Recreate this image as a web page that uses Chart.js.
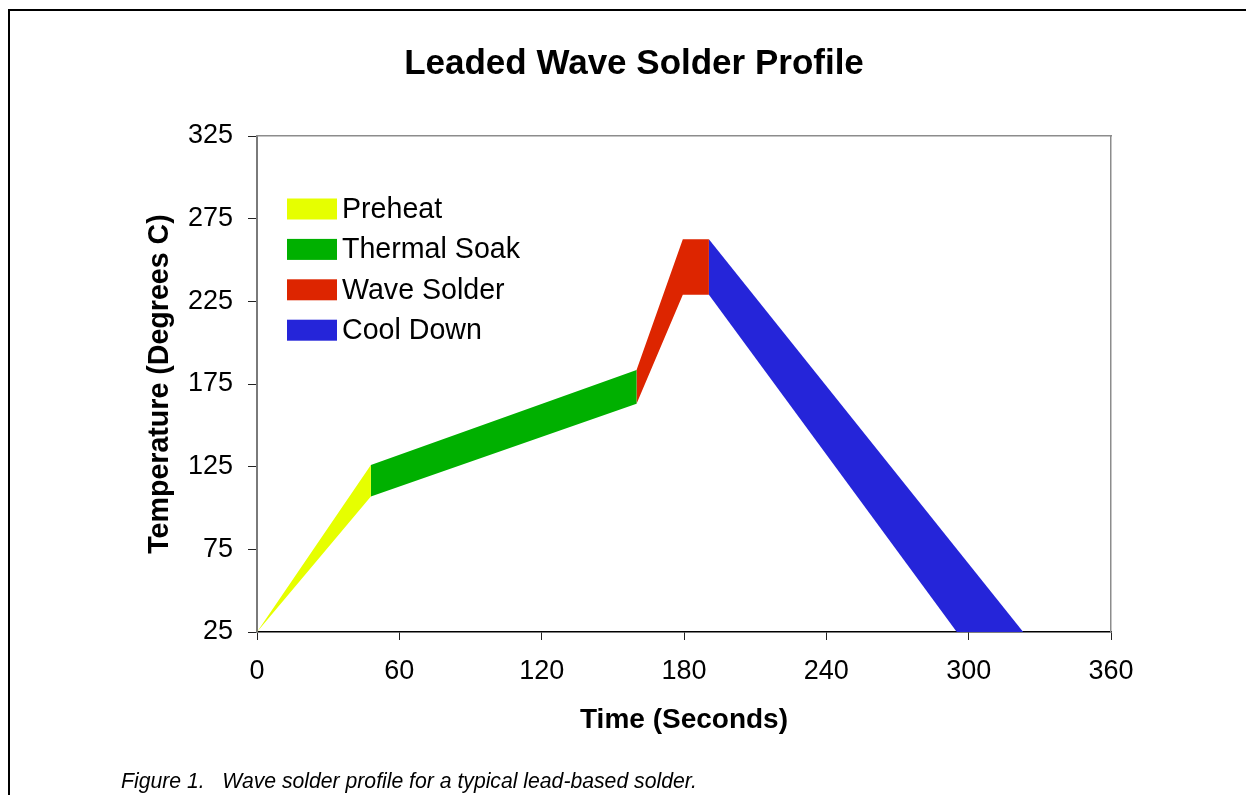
<!DOCTYPE html>
<html>
<head>
<meta charset="utf-8">
<script src="https://cdn.jsdelivr.net/npm/chart.js@4/dist/chart.umd.min.js"></script>
<style>
  html, body { margin: 0; padding: 0; background: #fff; }
  #wrap { position: relative; width: 1246px; height: 795px; overflow: hidden; background: #fff; }
  #chart { position: absolute; left: 0; top: 0; }
  #frame { position: absolute; left: 8px; top: 9px; width: 1300px; height: 900px;
           border-left: 2px solid #000; border-top: 2px solid #000; pointer-events: none; }
  #caption { position: absolute; left: 121px; top: 769px; font: italic 21.2px "Liberation Sans", Arial, sans-serif;
             color: #000; white-space: pre; line-height: 1.1; }
</style>
</head>
<body>
<div id="wrap">
  <canvas id="chart" width="1246" height="795"></canvas>
  <div id="frame"></div>
  <div id="caption">Figure 1.   Wave solder profile for a typical lead-based solder.</div>
</div>
<script>
// ---- data ----
const phaseNames = ['Preheat', 'Thermal Soak', 'Wave Solder', 'Cool Down'];
const phaseColors = ['#e6ff00', '#00b000', '#dd2500', '#2525d9'];

// upper and lower edges of each temperature band (time in s, temperature in °C)
const preheatHighTime = [0, 48];
const preheatHigh     = [25, 126];
const preheatLowTime  = [0, 48];
const preheatLow      = [25, 107];

const soakHighTime = [48, 160];
const soakHigh     = [126, 183.5];
const soakLowTime  = [48, 160];
const soakLow      = [107, 163];

const waveHighTime = [160, 179.5, 190.5];
const waveHigh     = [183.5, 262.5, 262.5];
const waveLowTime  = [160, 179.5, 190.5];
const waveLow      = [163, 229, 229];

const coolHighTime = [190.5, 323];
const coolHigh     = [262.5, 25];
const coolLowTime  = [190.5, 295];
const coolLow      = [229, 25];

const timeTicks = [0, 60, 120, 180, 240, 300, 360];
const tempTicks = [25, 75, 125, 175, 225, 275, 325];

// ---- build polygons (upper edge forward, lower edge back) ----
function band(hiT, hi, loT, lo) {
  const pts = [];
  for (let i = 0; i < hiT.length; i++) pts.push({ x: hiT[i], y: hi[i] });
  for (let i = loT.length - 1; i >= 0; i--) pts.push({ x: loT[i], y: lo[i] });
  return pts;
}
const bands = [
  band(preheatHighTime, preheatHigh, preheatLowTime, preheatLow),
  band(soakHighTime, soakHigh, soakLowTime, soakLow),
  band(waveHighTime, waveHigh, waveLowTime, waveLow),
  band(coolHighTime, coolHigh, coolLowTime, coolLow)
];

const FONT = '"Liberation Sans", Arial, Helvetica, sans-serif';

const legendPlugin = {
  id: 'insideLegend',
  afterDatasetsDraw(chart) {
    const { ctx, chartArea } = chart;
    ctx.save();
    ctx.font = '28.6px ' + FONT;
    ctx.textBaseline = 'middle';
    ctx.textAlign = 'left';
    chart.data.datasets.forEach((ds, i) => {
      const cy = chartArea.top + 73 + i * 40.4;
      const bx = chartArea.left + 30;
      ctx.fillStyle = ds.backgroundColor;
      ctx.fillRect(bx, cy - 10.5, 50, 21);
      ctx.fillStyle = '#000';
      ctx.fillText(ds.label, bx + 55, cy + 1);
    });
    ctx.restore();
  }
};

new Chart(document.getElementById('chart'), {
  type: 'line',
  data: {
    datasets: bands.map((pts, i) => ({
      label: phaseNames[i],
      data: pts,
      backgroundColor: phaseColors[i],
      borderColor: phaseColors[i],
      borderWidth: 0,
      pointRadius: 0,
      fill: 'shape',
      tension: 0,
      xAxisID: 'x',
      yAxisID: 'y'
    }))
  },
  options: {
    responsive: false,
    animation: false,
    events: [],
    layout: { padding: { left: 22, right: 0, top: 0, bottom: 58.2 } },
    plugins: {
      legend: { display: false },
      tooltip: { enabled: false },
      title: {
        display: true,
        text: 'Leaded Wave Solder Profile',
        color: '#000',
        font: { family: FONT, size: 35, weight: 'bold', lineHeight: 1.2 },
        padding: { top: 43, bottom: 51 }
      }
    },
    scales: {
      x: {
        type: 'linear',
        position: 'bottom',
        min: 0, max: 360,
        afterBuildTicks: s => { s.ticks = timeTicks.map(v => ({ value: v })); },
        afterFit: s => { s.height = 104.8; },
        ticks: { color: '#000', font: { family: FONT, size: 27 }, padding: 15, maxRotation: 0, autoSkip: false },
        grid: { drawOnChartArea: false, drawTicks: true, tickLength: 8, tickColor: '#222', color: '#222' },
        border: { display: true, color: '#000', width: 1.5 },
        title: {
          display: true, text: 'Time (Seconds)', color: '#000',
          font: { family: FONT, size: 28, weight: 'bold', lineHeight: 1.2 },
          padding: { top: 0, bottom: 0 }
        }
      },
      y: {
        type: 'linear',
        position: 'left',
        min: 25, max: 325,
        afterBuildTicks: s => { s.ticks = tempTicks.map(v => ({ value: v })); },
        afterFit: s => { s.width = 235; },
        ticks: { color: '#000', font: { family: FONT, size: 27 }, padding: 15, autoSkip: false },
        grid: { drawOnChartArea: false, drawTicks: true, tickLength: 9, tickColor: '#222', color: '#222' },
        border: { display: true, color: '#7a7a7a', width: 2 },
        title: {
          display: true, text: 'Temperature (Degrees C)', color: '#000',
          font: { family: FONT, size: 28.6, weight: 'bold', lineHeight: 1.2 },
          padding: { top: 120.8, bottom: 0 }
        }
      },
      x2: {
        type: 'linear',
        position: 'top',
        min: 0, max: 360,
        afterFit: s => { s.height = 0; },
        ticks: { display: false },
        grid: { drawOnChartArea: false, drawTicks: false },
        border: { display: true, color: '#8c8c8c', width: 1.5 }
      },
      y2: {
        type: 'linear',
        position: 'right',
        min: 25, max: 325,
        afterFit: s => { s.width = 135; },
        ticks: { display: false },
        grid: { drawOnChartArea: false, drawTicks: false },
        border: { display: true, color: '#8c8c8c', width: 1.5 }
      }
    }
  },
  plugins: [legendPlugin]
});
</script>
</body>
</html>
